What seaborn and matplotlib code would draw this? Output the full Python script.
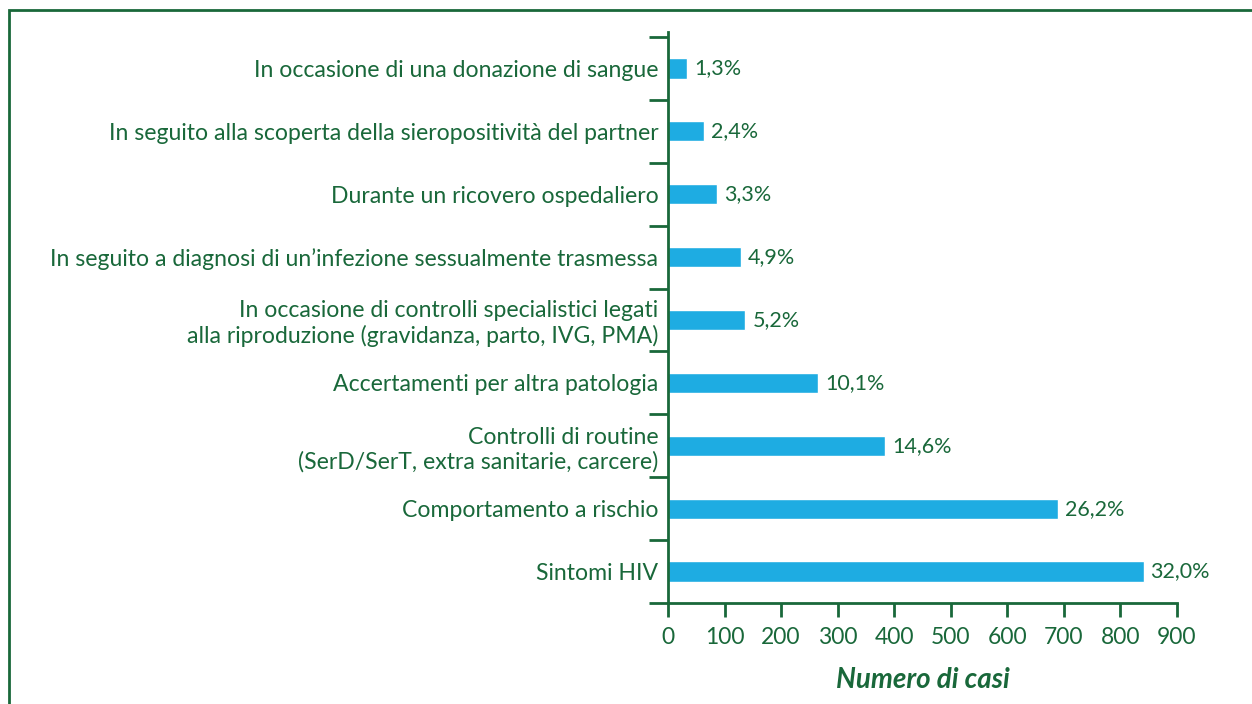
import matplotlib
matplotlib.use('Agg')
import matplotlib.pyplot as plt
import seaborn as sns
import numpy as np
from matplotlib.patches import Rectangle

# Data (top to bottom)
categories = [
    'In occasione di una donazione di sangue',
    'In seguito alla scoperta della sieropositività del partner',
    'Durante un ricovero ospedaliero',
    'In seguito a diagnosi di un\u2019infezione sessualmente trasmessa',
    'In occasione di controlli specialistici legati\nalla riproduzione (gravidanza, parto, IVG, PMA)',
    'Accertamenti per altra patologia',
    'Controlli di routine\n(SerD/SerT, extra sanitarie, carcere)',
    'Comportamento a rischio',
    'Sintomi HIV',
]
cases = [34, 63, 87, 129, 137, 265, 384, 689, 841]
pct_labels = ['1,3%', '2,4%', '3,3%', '4,9%', '5,2%', '10,1%', '14,6%', '26,2%', '32,0%']
x_ticks = [0, 100, 200, 300, 400, 500, 600, 700, 800, 900]

green = '#19683A'
blue = '#1EACE2'

sns.set_style('white')
plt.rcParams['font.family'] = ['Lato', 'DejaVu Sans']

fig = plt.figure(figsize=(12.52, 7.04), dpi=100)
ax = fig.add_axes([668 / 1252, 1 - 603 / 704, (1177 - 668) / 1252, (603 - 32) / 704])

sns.barplot(x=cases, y=categories, orient='h', color=blue, width=0.32,
            saturation=1, ax=ax)

ax.set_xlim(0, 900)
ax.set_ylim(8.5, -0.58)

# percentage labels next to bars
for i, (v, lab) in enumerate(zip(cases, pct_labels)):
    ax.annotate(lab, (v, i), xytext=(5, 0), textcoords='offset points',
                va='center', ha='left', color=green, fontsize=15.5)

for s in ['top', 'right']:
    ax.spines[s].set_visible(False)
for s in ['left', 'bottom']:
    ax.spines[s].set_color(green)
    ax.spines[s].set_linewidth(2)

ax.set_xticks(x_ticks)
ax.tick_params(axis='x', direction='out', length=10, width=2, color=green,
               labelcolor=green, labelsize=16.5, pad=7, bottom=True)
ax.set_yticks(np.arange(-0.5, 9.0, 1.0), minor=True)
ax.tick_params(axis='y', which='minor', direction='out', length=14, width=2,
               color=green, left=True)
ax.tick_params(axis='y', which='major', length=0, labelcolor=green,
               labelsize=16.6, pad=7)
for t in ax.get_yticklabels():
    t.set_multialignment('right')

ax.set_ylabel('')
ax.set_xlabel('Numero di casi', color=green, fontsize=20, fontweight='bold',
              fontstyle='italic', labelpad=14)

# frame around the figure
fig.add_artist(Rectangle((9 / 1252, -0.1), 1.2, 1 - 10 / 704 + 0.1,
                         transform=fig.transFigure, fill=False,
                         edgecolor=green, linewidth=2))

fig.savefig('out.png', dpi=100)
